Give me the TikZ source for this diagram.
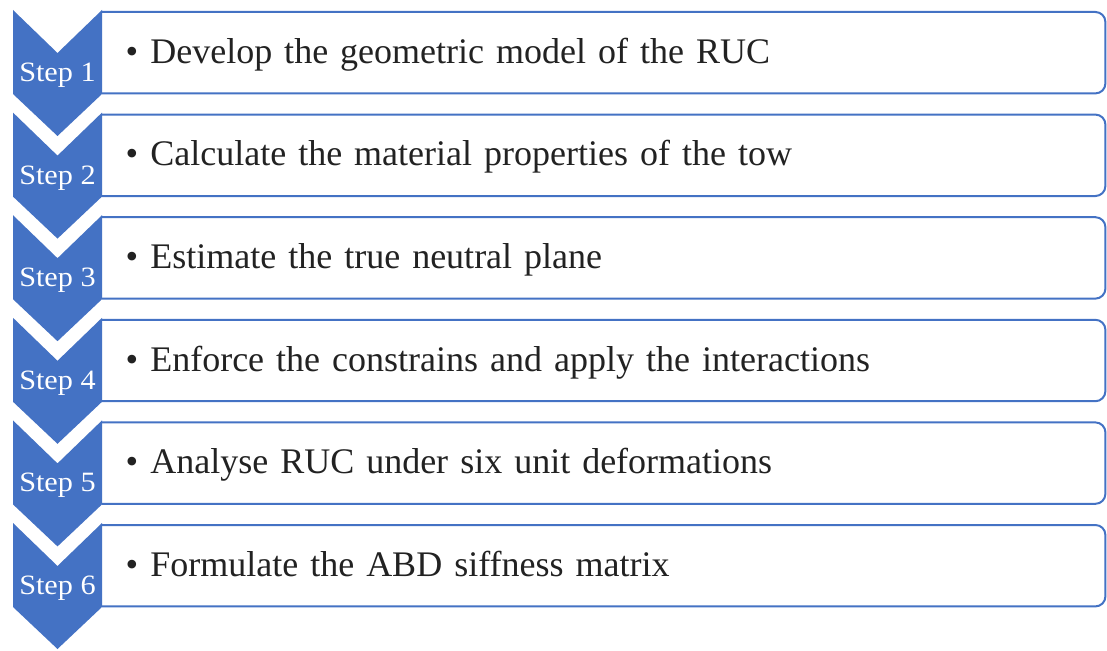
\documentclass[tikz,border=0pt]{standalone}
\usepackage{fontspec}
\setmainfont{Liberation Serif}
\usepackage{tikz}
\usetikzlibrary{positioning}
\definecolor{stepblue}{HTML}{4472C4}
\definecolor{inktext}{HTML}{222222}
\newcommand{\stepname}[1]{\scalebox{1.08}[1]{#1}}

\begin{document}
\begin{tikzpicture}[
  x=1pt, y=-1pt,
  chev/.style={fill=stepblue, draw=none},
  steplbl/.style={anchor=base, text=white, font=\fontsize{28}{32}\selectfont, inner sep=0pt},
  item/.style={fill=white, anchor=north west, minimum width=1003pt, text width=956pt,
    align=left, inner xsep=23pt, inner ysep=0pt, text height=51pt, text depth=30pt,
    text=inktext, font=\fontsize{36}{42}\selectfont},
  rim/.style={draw=stepblue, line width=2pt, rounded corners=10pt}
]
\useasboundingbox (0,0) rectangle (1107,650);

% boxes behind the chevrons
\node[item] (b1) at (102,12) {\textbullet\ Develop the geometric model of the RUC};
\node[item] (b2) at (102,114.6) {\textbullet\ Calculate the material properties of the tow};
\node[item] (b3) at (102,217.2) {\textbullet\ Estimate the true neutral plane};
\node[item] (b4) at (102,319.8) {\textbullet\ Enforce the constrains and apply the interactions};
\node[item] (b5) at (102,422.4) {\textbullet\ Analyse RUC under six unit deformations};
\node[item] (b6) at (102,525) {\textbullet\ Formulate the ABD siffness matrix};

\draw[rim] (b1.north west) -- (b1.north east) -- (b1.south east) -- (b1.south west);
\draw[rim] (b2.north west) -- (b2.north east) -- (b2.south east) -- (b2.south west);
\draw[rim] (b3.north west) -- (b3.north east) -- (b3.south east) -- (b3.south west);
\draw[rim] (b4.north west) -- (b4.north east) -- (b4.south east) -- (b4.south west);
\draw[rim] (b5.north west) -- (b5.north east) -- (b5.south east) -- (b5.south west);
\draw[rim] (b6.north west) -- (b6.north east) -- (b6.south east) -- (b6.south west);

% chevrons
\fill[chev] (13,10) -- ++(44.5,43) -- ++(44.5,-43) -- ++(0,84) -- ++(-44.5,42) -- ++(-44.5,-42) -- cycle;
\fill[chev] (13,112.6) -- ++(44.5,43) -- ++(44.5,-43) -- ++(0,84) -- ++(-44.5,42) -- ++(-44.5,-42) -- cycle;
\fill[chev] (13,215.2) -- ++(44.5,43) -- ++(44.5,-43) -- ++(0,84) -- ++(-44.5,42) -- ++(-44.5,-42) -- cycle;
\fill[chev] (13,317.8) -- ++(44.5,43) -- ++(44.5,-43) -- ++(0,84) -- ++(-44.5,42) -- ++(-44.5,-42) -- cycle;
\fill[chev] (13,420.4) -- ++(44.5,43) -- ++(44.5,-43) -- ++(0,84) -- ++(-44.5,42) -- ++(-44.5,-42) -- cycle;
\fill[chev] (13,523) -- ++(44.5,43) -- ++(44.5,-43) -- ++(0,84) -- ++(-44.5,42) -- ++(-44.5,-42) -- cycle;

\node[steplbl] (s1) at (57.5,81.5) {\stepname{Step 1}};
\node[steplbl] (s2) at (57.5,184.1) {\stepname{Step 2}};
\node[steplbl] (s3) at (57.5,286.7) {\stepname{Step 3}};
\node[steplbl] (s4) at (57.5,389.3) {\stepname{Step 4}};
\node[steplbl] (s5) at (57.5,491.9) {\stepname{Step 5}};
\node[steplbl] (s6) at (57.5,594.5) {\stepname{Step 6}};
\end{tikzpicture}
\end{document}
